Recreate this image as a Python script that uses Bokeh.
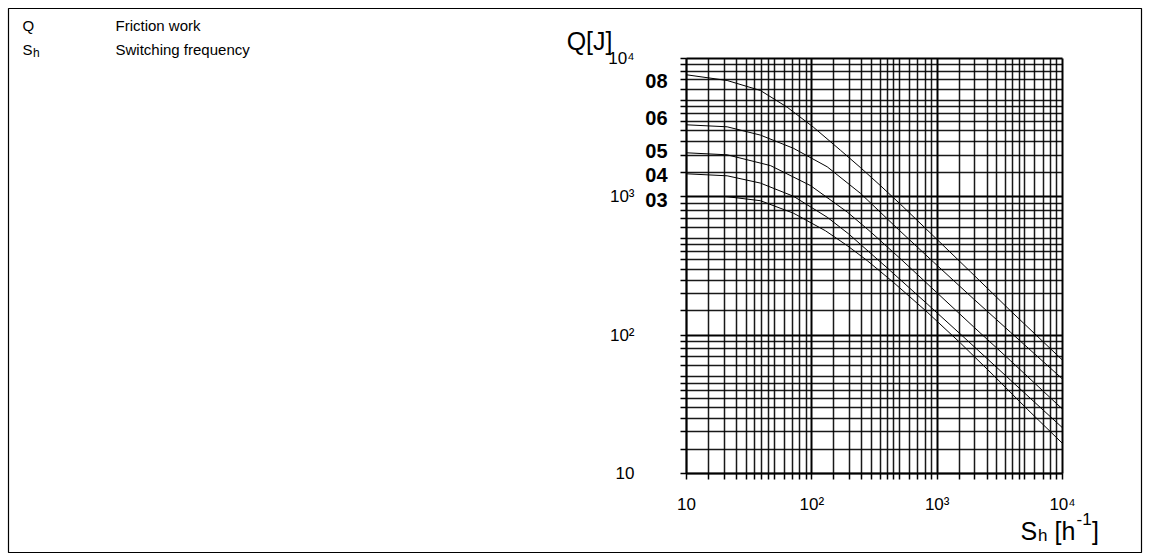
from bokeh.plotting import figure
from bokeh.models import FixedTicker, Label, LogAxis, Grid
from bokeh.embed import file_html
from bokeh.resources import INLINE

# ---- data ----
x_ticks = [10, 100, 1000, 10000]
x_tick_labels = ["10", "10²", "10³", "10⁴"]
y_ticks = [10, 100, 1000, 10000]
y_tick_labels = ["10", "10²", "10³", "10⁴"]
grid_multipliers = [1.5, 2, 2.5, 3, 3.5, 4, 4.5, 5, 6, 7, 8, 9]

curve_names = ["08", "06", "05", "04", "03"]
sh_08 = [10, 21.1, 38.9, 63.6, 103, 169, 245, 353, 510, 1000, 1845, 3850, 10000]
q_08 = [7625, 6934, 5870, 4445, 3187, 2174, 1624, 1204, 883, 491, 287, 150, 66]
sh_06 = [10, 21.1, 38.9, 71.4, 132.6, 244.6, 491.5, 935, 1950, 3847, 10000]
q_06 = [3316, 3208, 2794, 2243, 1649, 1059, 580, 337.5, 183, 105, 48.2]
sh_05 = [10, 21.1, 46.8, 97.6, 191.5, 293.9, 509.9, 1000, 1950, 3847, 10000]
q_05 = [2081, 2013, 1682, 1206, 777, 559, 356.5, 202, 115, 65.4, 29.2]
sh_04 = [10, 21.1, 38.9, 71.4, 132.6, 196.2, 399.4, 832.6, 1737, 3847, 10000]
q_04 = [1467, 1419, 1257, 1009, 712.4, 540.4, 306.3, 168.3, 91.8, 47.3, 21.4]
sh_03 = [20.5, 38.9, 71.4, 128.6, 191.5, 276.6, 448.3, 832.6, 1536, 2815, 5228, 10000]
q_03 = [1005.6, 937.6, 761.4, 568.1, 444.1, 345.9, 240.6, 146.8, 87.6, 51.2, 29.2, 16.5]

legend_symbols = ["Q", "S"]
legend_subscripts = ["", "h"]
legend_texts = ["Friction work", "Switching frequency"]

# ---- layout (pixels inside the bordered frame) ----
W, H = 1149, 560
B = 8
FW, FH = W - 2 * B, H - 2 * B
gx0, gx1 = 678, 1054
gy_top, gy_bot = 50, 465
dx = (gx1 - gx0) / 3.0
dy = (gy_bot - gy_top) / 3.0
x_rng = (10 ** (1 - gx0 / dx), 10 ** (4 + (FW - gx1) / dx))
y_rng = (10 ** (1 - (FH - gy_bot) / dy), 10 ** (4 + gy_top / dy))

FONT = "Liberation Sans"

p = figure(width=W, height=H, x_axis_type="log", y_axis_type="log",
           x_axis_location=None, y_axis_location=None,
           x_range=x_rng, y_range=y_rng,
           output_backend="svg", toolbar_location=None,
           min_border_left=B, min_border_right=B,
           min_border_top=B, min_border_bottom=B)
p.outline_line_color = "black"
p.outline_line_width = 1.2

minor = [m * 10 ** k for k in (1, 2, 3) for m in grid_multipliers]

use_grid = "cross_bounds" in Grid.properties()
for g, ticks in ((p.xgrid[0], x_ticks), (p.ygrid[0], y_ticks)):
    g.ticker = FixedTicker(ticks=ticks, minor_ticks=minor)
    g.bounds = (10, 10000)
    if use_grid:
        g.cross_bounds = (10, 10000)
        g.grid_line_color = "black"
        g.grid_line_width = 2
        g.minor_grid_line_color = "black"
        g.minor_grid_line_width = 1.5
        g.minor_grid_line_alpha = 0.9
    else:
        g.visible = False

if not use_grid:
    allv = sorted(set(x_ticks + minor))
    p.multi_line([[v, v] for v in allv], [[10, 10000]] * len(allv),
                 line_color="black", line_width=1.5, line_alpha=0.9)
    allh = sorted(set(y_ticks + minor))
    p.multi_line([[10, 10000]] * len(allh), [[v, v] for v in allh],
                 line_color="black", line_width=1.5, line_alpha=0.9)

xaxis = LogAxis(fixed_location=10)
yaxis = LogAxis(fixed_location=10)
for ax, ticks, labels in ((xaxis, x_ticks, x_tick_labels), (yaxis, y_ticks, y_tick_labels)):
    ax.ticker = FixedTicker(ticks=ticks, minor_ticks=minor)
    ax.bounds = (10, 10000)
    ax.major_label_overrides = {t: l for t, l in zip(ticks, labels)}
    ax.axis_line_color = "black"
    ax.axis_line_width = 1.5
    ax.major_tick_in = 0
    ax.minor_tick_in = 0
    ax.major_tick_out = 6
    ax.minor_tick_out = 6
    ax.major_tick_line_width = 1.5
    ax.minor_tick_line_width = 1.5
    ax.major_tick_line_color = "black"
    ax.minor_tick_line_color = "black"
    ax.major_label_text_font = FONT
    ax.major_label_text_font_size = "17px"
    ax.major_label_text_color = "black"
xaxis.major_label_standoff = 15
yaxis.major_label_standoff = 46
p.add_layout(xaxis, "below")
p.add_layout(yaxis, "left")

series = [(sh_08, q_08), (sh_06, q_06), (sh_05, q_05), (sh_04, q_04), (sh_03, q_03)]
label_offsets = [-6, 7, 2, -1.5, -4]
for name, (xs, ys), off in zip(curve_names, series, label_offsets):
    p.line(xs, ys, line_color="black", line_width=1)
    p.add_layout(Label(x=10, y=ys[0], x_offset=-19, y_offset=off, text=name,
                       text_align="right", text_baseline="middle",
                       text_font=FONT, text_font_style="bold",
                       text_font_size="20px", text_color="black"))


def slabel(x, y, text, size, align="left", baseline="alphabetic"):
    p.add_layout(Label(x=x, y=y, x_units="screen", y_units="screen", text=text,
                       text_align=align, text_baseline=baseline,
                       text_font=FONT, text_font_size=size, text_color="black"))


# axis titles (screen units: from frame bottom-left, y upward)
slabel(604, 512, "Q[J]", "25px", align="right", baseline="middle")
slabel(1012, 22, "S", "25px")
slabel(1029.5, 17, "h", "17px")
slabel(1046, 22, "[h", "25px")
slabel(1068, 34, "-1", "17px")
slabel(1083.5, 22, "]", "25px")

# legend block on the left
for i, (sym, sub, txt) in enumerate(zip(legend_symbols, legend_subscripts, legend_texts)):
    base = 526.6 - 24 * i
    slabel(14, base, sym, "15px")
    if sub:
        slabel(24.5, base - 3, sub, "12px")
    slabel(107, base, txt, "15px")

open("out.html", "w").write(file_html(p, INLINE))
